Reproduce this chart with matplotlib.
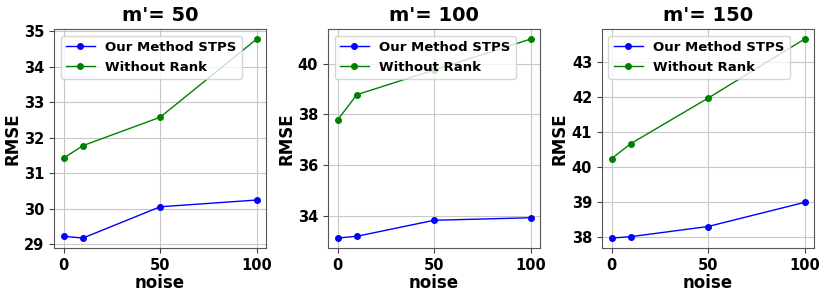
import matplotlib
matplotlib.use("Agg")
import matplotlib.pyplot as plt

noise = [0, 10, 50, 100]
titles = ["m'= 50", "m'= 100", "m'= 150"]

stps_50 = [29.23, 29.18, 30.06, 30.25]
norank_50 = [31.43, 31.78, 32.58, 34.78]

stps_100 = [33.13, 33.20, 33.83, 33.93]
norank_100 = [37.78, 38.78, 39.75, 40.97]

stps_150 = [37.97, 38.01, 38.30, 38.99]
norank_150 = [40.24, 40.67, 41.97, 43.66]

stps_all = [stps_50, stps_100, stps_150]
norank_all = [norank_50, norank_100, norank_150]

plt.rcParams["font.weight"] = "bold"

fig, axes = plt.subplots(1, 3, figsize=(8.3, 2.97), dpi=100)
fig.subplots_adjust(left=0.065, right=0.981, top=0.902, bottom=0.165, wspace=0.29)

for ax, title, stps, norank in zip(axes, titles, stps_all, norank_all):
    ax.plot(noise, stps, color="blue", marker="o", markersize=4, linewidth=1,
            label="Our Method STPS")
    ax.plot(noise, norank, color="green", marker="o", markersize=4, linewidth=1,
            label="Without Rank")
    ax.set_title(title, fontsize=14, fontweight="bold")
    ax.set_xlabel("noise", fontsize=12, fontweight="bold", labelpad=1)
    ax.set_ylabel("RMSE", fontsize=12, fontweight="bold", labelpad=2)
    ax.set_xticks([0, 50, 100])
    ax.tick_params(labelsize=10.5, colors="#444444", labelcolor="black")
    for sp in ax.spines.values():
        sp.set_color("#555555")
    ax.grid(True, color="#c8c8c8", linewidth=0.8)
    ax.legend(loc="upper left", prop={"weight": "bold", "size": 9.5},
              borderaxespad=0.5, handlelength=2.2)

fig.savefig("out.png", dpi=100)
